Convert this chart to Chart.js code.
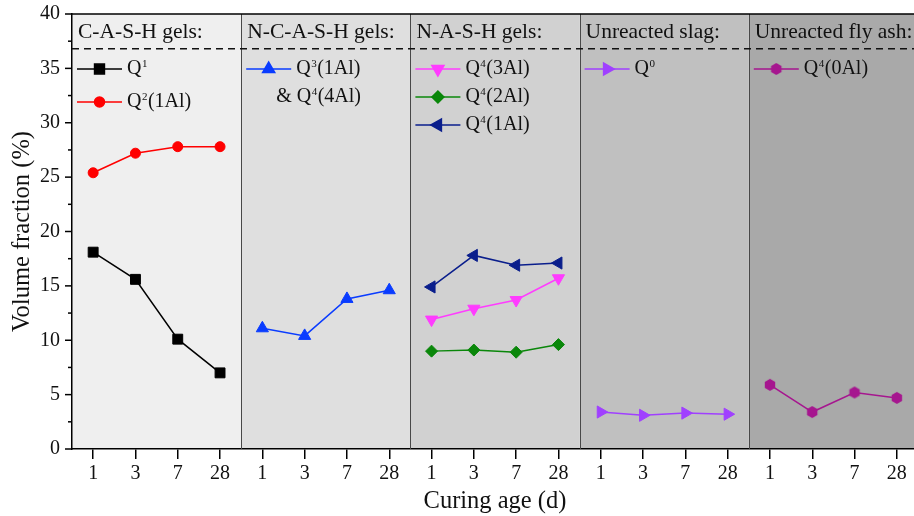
<!DOCTYPE html>
<html>
<head>
<meta charset="utf-8">
<script src="https://cdn.jsdelivr.net/npm/chart.js@4.4.0/dist/chart.umd.min.js"></script>
<style>
  html, body { margin: 0; padding: 0; background: #fff; overflow: hidden; }
  #wrap { width: 914px; height: 516px; overflow: hidden; }
</style>
</head>
<body>
<div id="wrap"><canvas id="chart" width="926" height="516"></canvas></div>
<script>
// x categories: four curing ages repeated for each gel / phase group
const ages = ['1', '3', '7', '28'];
const groupTitles = ['C-A-S-H gels:', 'N-C-A-S-H gels:', 'N-A-S-H gels:', 'Unreacted slag:', 'Unreacted fly ash:'];
const groupShades = ['#efefef', '#dfdfdf', '#d1d1d1', '#c0c0c0', '#a9a9a9'];
const dashLevel = 36.8;

// volume fractions (%), ages 1, 3, 7, 28 d
const q1 = [18.1, 15.6, 10.1, 7.0];
const q2_1Al = [25.4, 27.2, 27.8, 27.8];
const q3_1Al = [11.1, 10.4, 13.8, 14.6];
const q4_3Al = [11.9, 12.9, 13.7, 15.7];
const q4_2Al = [9.0, 9.1, 8.9, 9.6];
const q4_1Al = [14.9, 17.8, 16.9, 17.1];
const q0 = [3.4, 3.1, 3.3, 3.2];
const q4_0Al = [5.9, 3.4, 5.2, 4.7];

const serif = "'Liberation Serif', 'Times New Roman', serif";

function hexMarker(color, r) {
    const c = document.createElement('canvas');
    const s = Math.ceil(r * 2) + 2;
    c.width = c.height = s;
    const g = c.getContext('2d');
    g.fillStyle = color;
    g.beginPath();
    for (let k = 0; k < 6; k++) {
        const a = Math.PI / 6 + k * Math.PI / 3;
        const px = s / 2 + r * Math.cos(a), py = s / 2 + r * Math.sin(a);
        k === 0 ? g.moveTo(px, py) : g.lineTo(px, py);
    }
    g.closePath();
    g.fill();
    return c;
}

// legend text: [base, superscript, rest] per line
const series = [
    { values: q1, group: 0, legend: [['Q', '1', '']], color: '#000000', style: 'rect', rot: 0, r: 7 },
    { values: q2_1Al, group: 0, legend: [['Q', '2', '(1Al)']], color: '#ff0000', style: 'circle', rot: 0, r: 5 },
    { values: q3_1Al, group: 1, legend: [['Q', '3', '(1Al)'], ['& Q', '4', '(4Al)']], color: '#0a3cff', style: 'triangle', rot: 0, r: 7 },
    { values: q4_3Al, group: 2, legend: [['Q', '4', '(3Al)']], color: '#ff3cff', style: 'triangle', rot: 180, r: 7 },
    { values: q4_2Al, group: 2, legend: [['Q', '4', '(2Al)']], color: '#0a870a', style: 'rectRot', rot: 0, r: 6 },
    { values: q4_1Al, group: 2, legend: [['Q', '4', '(1Al)']], color: '#0a1e8c', style: 'triangle', rot: 270, r: 7 },
    { values: q0, group: 3, legend: [['Q', '0', '']], color: '#a040ff', style: 'triangle', rot: 90, r: 7 },
    { values: q4_0Al, group: 4, legend: [['Q', '4', '(0Al)']], color: '#a6168f', style: 'hex', rot: 0, r: 6 }
];
const rowGap = [33, 28, 28, 28, 28];

const labels = [];
groupTitles.forEach(() => ages.forEach(a => labels.push(a)));

const datasets = series.map(s => {
    const data = new Array(labels.length).fill(null);
    s.values.forEach((v, i) => { data[s.group * ages.length + i] = v; });
    const ps = s.style === 'hex' ? hexMarker(s.color, s.r) : s.style;
    return {
        data: data,
        borderColor: s.color,
        backgroundColor: s.color,
        borderWidth: 1.5,
        pointStyle: ps,
        pointRotation: s.rot,
        pointRadius: s.r,
        pointBorderWidth: 1,
        pointBackgroundColor: s.color,
        pointBorderColor: s.color,
        spanGaps: false,
        tension: 0,
        clip: false
    };
});

function groupBounds(chart, g) {
    const x = chart.scales.x;
    const half = (x.getPixelForValue(1) - x.getPixelForValue(0)) / 2;
    return [x.getPixelForValue(g * ages.length) - half, x.getPixelForValue(g * ages.length + ages.length - 1) + half];
}

function drawQ(ctx, parts, x, y) {
    ctx.font = '20px ' + serif;
    ctx.textBaseline = 'middle';
    ctx.fillText(parts[0], x, y);
    x += ctx.measureText(parts[0]).width + 0.5;
    ctx.font = '11px ' + serif;
    ctx.textBaseline = 'alphabetic';
    ctx.fillText(parts[1], x, y - 2);
    x += ctx.measureText(parts[1]).width + 0.5;
    ctx.font = '20px ' + serif;
    ctx.textBaseline = 'middle';
    ctx.fillText(parts[2], x, y);
}

const panelPlugin = {
    id: 'panels',
    beforeDraw(chart) {
        const { ctx, chartArea } = chart;
        ctx.save();
        groupShades.forEach((c, g) => {
            const [x0, x1] = groupBounds(chart, g);
            ctx.fillStyle = c;
            ctx.fillRect(x0, chartArea.top, x1 - x0, chartArea.bottom - chartArea.top);
        });
        ctx.restore();
    },
    beforeDatasetsDraw(chart) {
        const { ctx, chartArea, scales } = chart;
        ctx.save();
        // separators between groups
        ctx.strokeStyle = '#484848';
        ctx.lineWidth = 1;
        for (let g = 1; g < groupTitles.length; g++) {
            const x0 = Math.round(groupBounds(chart, g)[0]) + 0.5;
            ctx.beginPath();
            ctx.moveTo(x0, chartArea.top);
            ctx.lineTo(x0, chartArea.bottom);
            ctx.stroke();
        }
        // dashed header line
        const yd = scales.y.getPixelForValue(dashLevel);
        ctx.strokeStyle = '#111';
        ctx.lineWidth = 1.5;
        ctx.setLineDash([7, 5]);
        ctx.beginPath();
        ctx.moveTo(chartArea.left, yd);
        ctx.lineTo(chartArea.right, yd);
        ctx.stroke();
        ctx.setLineDash([]);
        // top frame
        ctx.strokeStyle = '#000';
        ctx.beginPath();
        ctx.moveTo(chartArea.left, chartArea.top);
        ctx.lineTo(chartArea.right, chartArea.top);
        ctx.stroke();
        ctx.restore();
    },
    afterDraw(chart) {
        const { ctx, chartArea, scales } = chart;
        ctx.save();
        // y tick marks, major and minor
        const y = scales.y;
        ctx.strokeStyle = '#000';
        ctx.lineWidth = 1.5;
        y.ticks.forEach(t => {
            const py = y.getPixelForValue(t.value);
            const len = t.value % 5 === 0 ? 7 : 4;
            ctx.beginPath();
            ctx.moveTo(chartArea.left - len, py);
            ctx.lineTo(chartArea.left, py);
            ctx.stroke();
        });
        // group titles
        ctx.fillStyle = '#111';
        ctx.font = '21.5px ' + serif;
        ctx.textBaseline = 'middle';
        groupTitles.forEach((t, g) => {
            const [x0] = groupBounds(chart, g);
            ctx.fillText(t, x0 + 6, chartArea.top + 18);
        });
        // per-panel legends
        const rows = new Array(groupTitles.length).fill(0);
        series.forEach((s, i) => {
            const [x0] = groupBounds(chart, s.group);
            const ds = chart.data.datasets[i];
            s.legend.forEach((line, li) => {
                const ly = chartArea.top + 55 + rows[s.group] * rowGap[s.group];
                if (li === 0) {
                    ctx.strokeStyle = s.color;
                    ctx.fillStyle = s.color;
                    ctx.lineWidth = 1.5;
                    ctx.beginPath();
                    ctx.moveTo(x0 + 5, ly);
                    ctx.lineTo(x0 + 50, ly);
                    ctx.stroke();
                    Chart.helpers.drawPoint(ctx, {
                        pointStyle: ds.pointStyle, rotation: s.rot, radius: s.r, borderWidth: 1
                    }, x0 + 27.5, ly);
                    ctx.fillStyle = '#111';
                    drawQ(ctx, line, x0 + 55, ly);
                } else {
                    ctx.fillStyle = '#111';
                    drawQ(ctx, line, x0 + 35, ly);
                }
                rows[s.group]++;
            });
        });
        ctx.restore();
    }
};

new Chart(document.getElementById('chart'), {
    type: 'line',
    data: { labels: labels, datasets: datasets },
    options: {
        responsive: false,
        animation: false,
        layout: { padding: { top: 14, right: 2, left: 0, bottom: 0 } },
        plugins: { legend: { display: false }, tooltip: { enabled: false } },
        scales: {
            x: {
                type: 'category',
                offset: true,
                afterFit: s => { s.height = 67; s.paddingLeft = 0; s.paddingRight = 0; },
                grid: { offset: false, drawOnChartArea: false, drawTicks: true, tickLength: 10, color: '#000', lineWidth: 1.5 },
                border: { display: true, color: '#000', width: 1.5 },
                ticks: { color: '#111', font: { family: serif, size: 20 }, padding: 3, autoSkip: false, maxRotation: 0 },
                title: { display: true, text: 'Curing age (d)', color: '#111', font: { family: serif, size: 24.5 }, padding: { top: 0, bottom: 0 } }
            },
            y: {
                min: 0,
                max: 40,
                afterFit: s => { s.width = 72; s.paddingTop = 0; s.paddingBottom = 0; },
                grid: { drawOnChartArea: false, drawTicks: false },
                border: { display: true, color: '#000', width: 1.5 },
                ticks: {
                    stepSize: 2.5,
                    color: '#111',
                    font: { family: serif, size: 20 },
                    padding: 12,
                    callback: v => (v % 5 === 0 ? v : '')
                },
                title: { display: true, text: 'Volume fraction (%)', color: '#111', font: { family: serif, size: 24.5 }, padding: { top: 8, bottom: 0 } }
            }
        }
    },
    plugins: [panelPlugin]
});
</script>
</body>
</html>
